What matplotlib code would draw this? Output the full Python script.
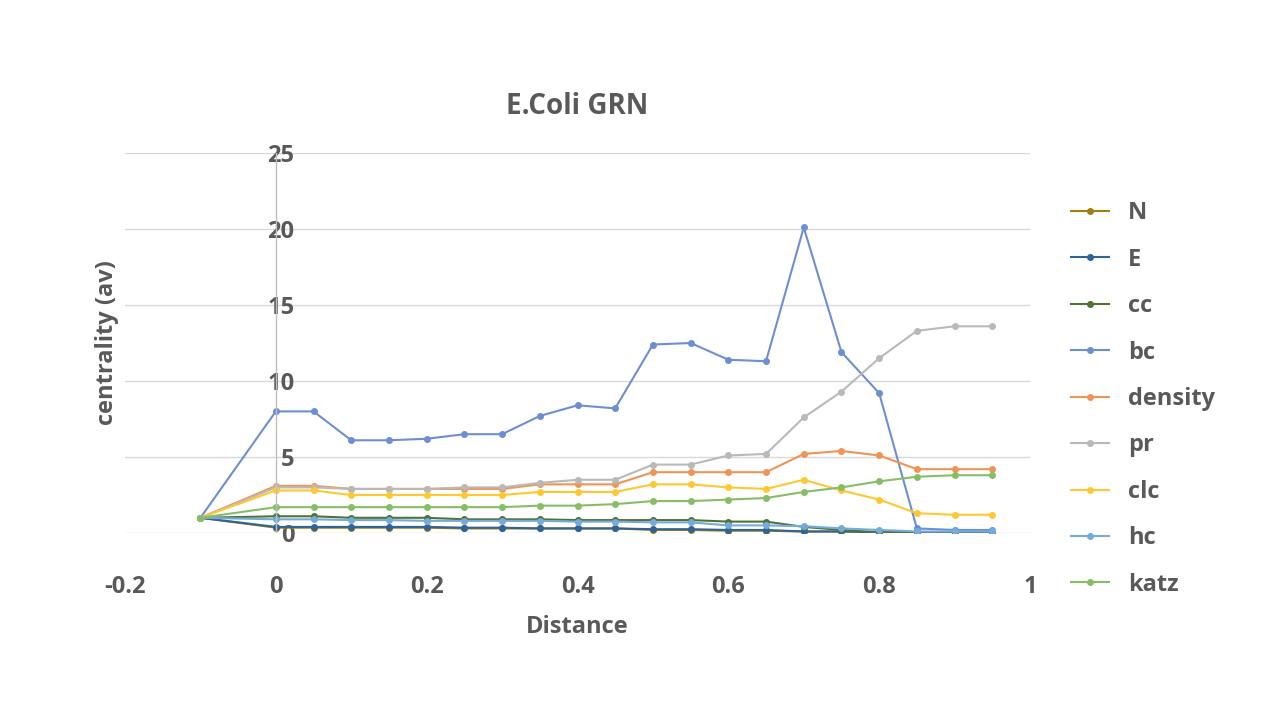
import matplotlib
matplotlib.use("Agg")
from matplotlib import pyplot as plt

x = [-0.1, 0, 0.05, 0.1, 0.15, 0.2, 0.25, 0.3, 0.35, 0.4, 0.45, 0.5, 0.55, 0.6, 0.65, 0.7, 0.75, 0.8, 0.85, 0.9, 0.95]
N = [1, 0.35, 0.35, 0.35, 0.35, 0.35, 0.3, 0.3, 0.3, 0.3, 0.3, 0.2, 0.2, 0.15, 0.15, 0.1, 0.1, 0.05, 0.05, 0.05, 0.05]
E = [1, 0.4, 0.4, 0.4, 0.4, 0.4, 0.35, 0.35, 0.3, 0.3, 0.3, 0.25, 0.25, 0.2, 0.2, 0.1, 0.1, 0.05, 0.05, 0.05, 0.05]
cc = [1, 1.1, 1.1, 1.0, 1.0, 1.0, 0.9, 0.9, 0.9, 0.85, 0.85, 0.85, 0.85, 0.75, 0.75, 0.4, 0.2, 0.05, 0.05, 0.05, 0.05]
bc = [1, 8.0, 8.0, 6.1, 6.1, 6.2, 6.5, 6.5, 7.7, 8.4, 8.2, 12.4, 12.5, 11.4, 11.3, 20.1, 11.9, 9.2, 0.3, 0.2, 0.2]
density = [1, 3.1, 3.1, 2.9, 2.9, 2.9, 2.9, 2.9, 3.2, 3.2, 3.2, 4.0, 4.0, 4.0, 4.0, 5.2, 5.4, 5.1, 4.2, 4.2, 4.2]
pr = [1, 3.0, 3.0, 2.9, 2.9, 2.9, 3.0, 3.0, 3.3, 3.5, 3.5, 4.5, 4.5, 5.1, 5.2, 7.6, 9.3, 11.5, 13.3, 13.6, 13.6]
clc = [1, 2.8, 2.8, 2.5, 2.5, 2.5, 2.5, 2.5, 2.7, 2.7, 2.7, 3.2, 3.2, 3.0, 2.9, 3.5, 2.8, 2.2, 1.3, 1.2, 1.2]
hc = [1, 0.9, 0.9, 0.85, 0.85, 0.8, 0.8, 0.8, 0.8, 0.75, 0.75, 0.7, 0.7, 0.5, 0.5, 0.45, 0.3, 0.2, 0.1, 0.1, 0.1]
katz = [1, 1.7, 1.7, 1.7, 1.7, 1.7, 1.7, 1.7, 1.8, 1.8, 1.9, 2.1, 2.1, 2.2, 2.3, 2.7, 3.0, 3.4, 3.7, 3.8, 3.8]

series = [("N", N, "#a07f10"), ("E", E, "#2f6496"), ("cc", cc, "#4e7336"),
          ("bc", bc, "#6d8fd2"), ("density", density, "#ef9456"), ("pr", pr, "#b9b9b9"),
          ("clc", clc, "#ffc832"), ("hc", hc, "#75aadc"), ("katz", katz, "#88bd68")]

grey = "#595959"
plt.rcParams['font.family'] = ['Open Sans', 'DejaVu Sans']
fig = plt.figure(figsize=(12.8, 7.2), dpi=100)
ax = fig.add_axes([125/1280, 1-533/720, 905/1280, 380/720])
for name, vals, col in series:
    ax.plot(x, vals, color=col, marker="o", markersize=4, linewidth=1.5, label=name)

ax.set_xlim(-0.2, 1)
ax.set_ylim(0, 25)
ax.set_xticks([-0.2, 0, 0.2, 0.4, 0.6, 0.8, 1])
ax.set_xticklabels(["-0.2", "0", "0.2", "0.4", "0.6", "0.8", "1"])
ax.set_yticks([0, 5, 10, 15, 20, 25])
ax.grid(axis="y", color="#d9d9d9", linewidth=1)
ax.axvline(0, color="#bfbfbf", linewidth=1)
ax.set_axisbelow(True)
for s in ax.spines.values():
    s.set_visible(False)
ax.tick_params(length=0, labelsize=17, labelcolor=grey)
ax.tick_params(axis="x", pad=30)
for lab in ax.get_xticklabels() + ax.get_yticklabels():
    lab.set_fontweight("bold")
# y labels sit next to the x=0 axis
ax.tick_params(axis="y", pad=-122)
ax.set_xlabel("Distance", fontsize=17, color=grey, fontweight="bold", labelpad=12)
ax.set_ylabel("centrality (av)", fontsize=17, color=grey, fontweight="bold")
ax.set_title("E.Coli GRN", fontsize=20, color=grey, fontweight="bold", pad=28)

leg = fig.legend(loc="upper left", bbox_to_anchor=(1050/1280, 1-180/720), frameon=False,
                 labelspacing=0.95, fontsize=17, handlelength=1.6, labelcolor=grey)
for t in leg.get_texts():
    t.set_fontweight("bold")

fig.savefig("out.png")
